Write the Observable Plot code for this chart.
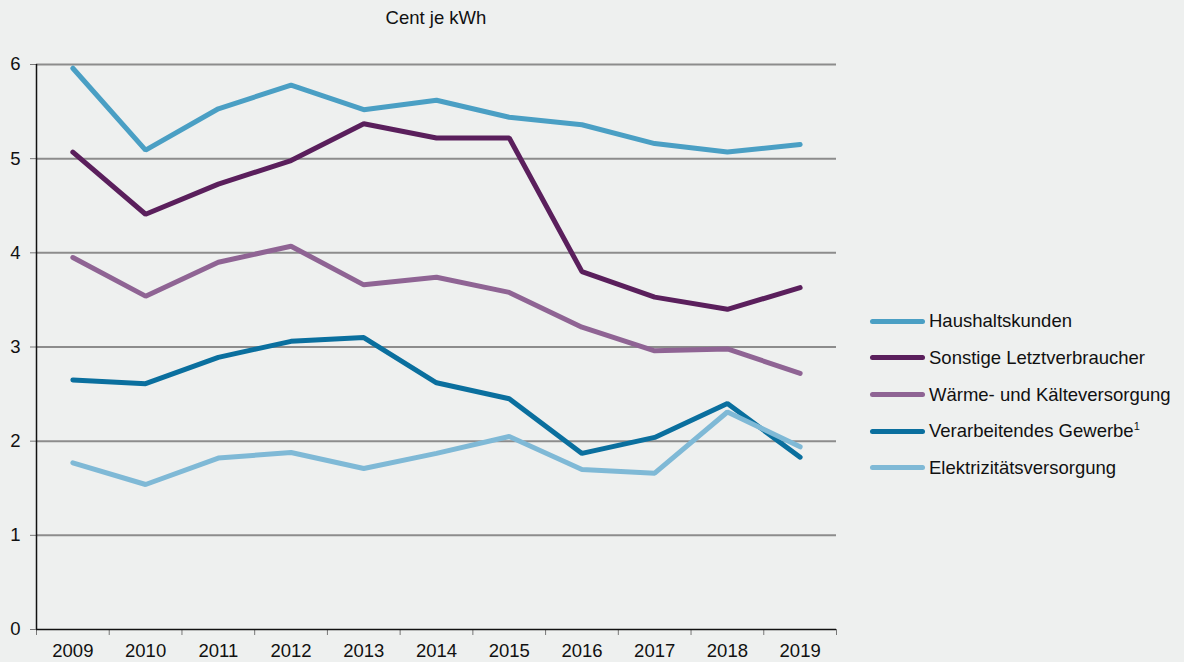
<!DOCTYPE html>
<html>
<head>
<meta charset="utf-8">
<script src="https://cdn.jsdelivr.net/npm/d3@7"></script>
<script src="https://cdn.jsdelivr.net/npm/@observablehq/plot@0.6"></script>
<style>
  html, body { margin: 0; padding: 0; background: #eef0ef; }
  body { font-family: "Liberation Sans", Arial, sans-serif; width: 1184px; height: 662px; overflow: hidden; position: relative; }
  #title { position: absolute; left: 36px; width: 800px; top: 7px; text-align: center; font-size: 18.5px; color: #111; }
  #chart { position: absolute; left: 0; top: 40px; }
  #legend { position: absolute; left: 870px; top: 303px; font-size: 18.5px; color: #111; }
  .item { height: 36.67px; display: flex; align-items: center; }
  .sw { width: 55px; height: 5px; border-radius: 3px; margin-right: 4px; }
  sup { font-size: 11px; vertical-align: 7px; }
</style>
</head>
<body>
<div id="title">Cent je kWh</div>
<div id="chart"></div>
<div id="legend"></div>
<script>
const years = [2009, 2010, 2011, 2012, 2013, 2014, 2015, 2016, 2017, 2018, 2019];
const seriesNames = ["Haushaltskunden", "Sonstige Letztverbraucher", "Wärme- und Kälteversorgung", "Verarbeitendes Gewerbe", "Elektrizitätsversorgung"];
const colors = ["#4a9fc4", "#5a1f5c", "#8f6494", "#0a6f9e", "#7fb9d6"];
const haushaltskunden = [5.96, 5.09, 5.53, 5.78, 5.52, 5.62, 5.44, 5.36, 5.16, 5.07, 5.15];
const sonstige = [5.07, 4.41, 4.73, 4.98, 5.37, 5.22, 5.22, 3.80, 3.53, 3.40, 3.63];
const waerme = [3.95, 3.54, 3.90, 4.07, 3.66, 3.74, 3.58, 3.21, 2.96, 2.98, 2.72];
const verarbeitendes = [2.65, 2.61, 2.89, 3.06, 3.10, 2.62, 2.45, 1.87, 2.04, 2.40, 1.83];
const elektrizitaet = [1.77, 1.54, 1.82, 1.88, 1.71, 1.87, 2.05, 1.70, 1.66, 2.31, 1.94];
const yTicks = [0, 1, 2, 3, 4, 5, 6];

const allValues = [haushaltskunden, sonstige, waerme, verarbeitendes, elektrizitaet];
const data = [];
seriesNames.forEach((name, i) => years.forEach((yr, j) => data.push({series: name, year: yr, value: allValues[i][j]})));
const boundaries = years.map(y => y - 0.5).concat([years[years.length - 1] + 0.5]);

const plot = Plot.plot({
  width: 1184,
  height: 622,
  marginTop: 24,
  marginBottom: 33,
  marginLeft: 36,
  marginRight: 348,
  style: { background: "transparent", fontFamily: "Liberation Sans, Arial, sans-serif", fontSize: "18.5px", color: "#111" },
  x: { type: "linear", domain: [2008.5, 2019.5] },
  y: { domain: [0, 6] },
  color: { domain: seriesNames, range: colors },
  marks: [
    Plot.ruleY(yTicks.filter(d => d > 0), { stroke: "#8c8c8c", strokeWidth: 2 }),
    Plot.axisY(yTicks, { tickSize: 6, tickPadding: 10, tickFormat: d => String(d), stroke: "#777", label: null, fontSize: 18.5 }),
    Plot.axisX(boundaries, { tickSize: 6, tickFormat: () => "", stroke: "#777", label: null }),
    Plot.axisX(years, { tickSize: 0, tickPadding: 14, tickFormat: d => String(d), label: null, fontSize: 18.5 }),
    Plot.ruleY([0], { stroke: "#111", strokeWidth: 1.5 }),
    Plot.ruleX([2008.5], { stroke: "#111", strokeWidth: 1.5 }),
    Plot.line(data, { x: "year", y: "value", z: "series", stroke: "series", strokeWidth: 5, strokeLinecap: "round", strokeLinejoin: "miter" })
  ]
});
document.getElementById("chart").appendChild(plot);

const legend = document.getElementById("legend");
seriesNames.forEach((name, i) => {
  const item = document.createElement("div");
  item.className = "item";
  const sw = document.createElement("div");
  sw.className = "sw";
  sw.style.background = colors[i];
  const label = document.createElement("span");
  label.innerHTML = name + (name === "Verarbeitendes Gewerbe" ? "<sup>1</sup>" : "");
  item.appendChild(sw);
  item.appendChild(label);
  legend.appendChild(item);
});
</script>
</body>
</html>
